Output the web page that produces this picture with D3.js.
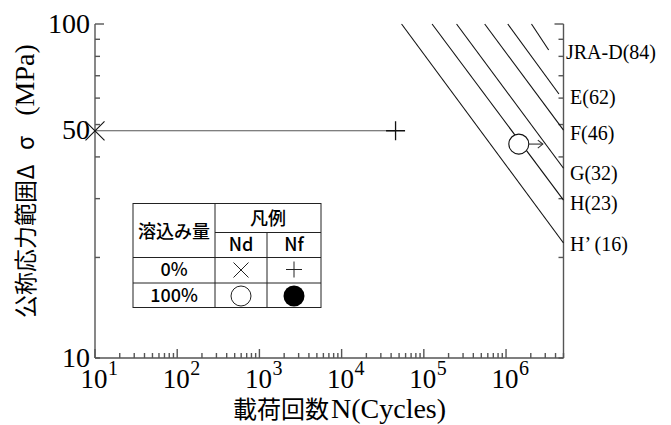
<!DOCTYPE html>
<html>
<head>
<meta charset="utf-8">
<script src="https://cdn.jsdelivr.net/npm/d3@7"></script>
<style>
  body { margin: 0; background: #fff; }
</style>
</head>
<body>
<div id="chartContainer"></div>
<script>
// S-N diagram values
var classNames  = ["JRA-D(84)", "E(62)", "F(46)", "G(32)", "H(23)", "H\u2019 (16)"];
var lineStartN  = [2.04e6, 1.05e6, 5.5e5, 2.5e5, 1.26e5, 5.36e4];
var lineStartS  = [100, 100, 100, 100, 100, 100];
var lineEndN    = [3.3e6, 4.4e6, 5e6, 5e6, 5e6, 5e6];
var lineEndS    = [83.6, 61.7, 48.1, 37.0, 29.7, 22.1];
var labelS      = [82.4, 60.4, 47.2, 35.8, 29.1, 21.9];

// test result: 0% penetration, crack initiation (Nd) and failure (Nf)
var testS = 47.9;
var testNd = 10;
var testNf = 45300;
// 100% penetration run-out
var runoutN = 1.43e6;
var runoutS = 43.7;

var yTickLabels = [100, 50, 10];
var xTickExps = [1, 2, 3, 4, 5, 6];

// legend table
var legendRows = ["0%", "100%"];
var legendCols = ["Nd", "Nf"];

var serif = "Liberation Serif";
var sans = "Noto Sans CJK JP";
var axisColor = "#555";

var svg = d3.select("#chartContainer").append("svg")
  .attr("width", 671).attr("height", 425);

var x = d3.scaleLog().domain([10, 5e6]).range([95, 563.5]);
var y = d3.scaleLog().domain([10, 100]).range([358, 24]);

function isMajor(v) { return Math.abs(Math.log10(v) - Math.round(Math.log10(v))) < 1e-9; }

// axes frame (left, bottom, right)
var ax = svg.append("g").attr("stroke", axisColor).attr("stroke-width", 1.4).attr("fill", "none");
ax.append("line").attr("x1", x(10)).attr("x2", x(10)).attr("y1", y(100)).attr("y2", y(10));
ax.append("line").attr("x1", x(10)).attr("x2", x(5e6)).attr("y1", y(10)).attr("y2", y(10));
ax.append("line").attr("x1", x(5e6)).attr("x2", x(5e6)).attr("y1", y(100)).attr("y2", y(10));

// x ticks pointing up
x.ticks().forEach(function (t) {
  var len = isMajor(t) ? 9 : 5;
  ax.append("line").attr("x1", x(t)).attr("x2", x(t)).attr("y1", y(10)).attr("y2", y(10) - len);
});
// y ticks on both sides, pointing in
y.ticks().forEach(function (t) {
  var len = t === 100 ? 9 : 5;
  ax.append("line").attr("x1", x(10)).attr("x2", x(10) + len).attr("y1", y(t)).attr("y2", y(t));
  ax.append("line").attr("x1", x(5e6)).attr("x2", x(5e6) - len).attr("y1", y(t)).attr("y2", y(t));
});

// y tick labels
svg.selectAll(".ylab").data(yTickLabels).enter().append("text")
  .attr("x", 90).attr("y", function (d) { return y(d); })
  .attr("dy", function (d) { return d === 50 ? "0.5em" : "0.33em"; })
  .attr("text-anchor", "end")
  .style("font-family", serif).attr("font-size", 28)
  .text(function (d) { return d; });

// x tick labels 10^n
xTickExps.forEach(function (e) {
  var px = x(Math.pow(10, e));
  svg.append("text").attr("x", px - 1).attr("y", 388)
    .attr("text-anchor", "middle")
    .style("font-family", serif).attr("font-size", 27).text("10");
  svg.append("text").attr("x", px + 13).attr("y", 375)
    .style("font-family", serif).attr("font-size", 20).text(e);
});

// axis titles
svg.append("text").attr("x", 233).attr("y", 418)
  .style("font-family", sans).attr("font-size", 24).text("載荷回数");
svg.append("text").attr("x", 331).attr("y", 418)
  .style("font-family", serif).attr("font-size", 28).text("N(Cycles)");

function yTitle(t, cy, fam, size) {
  svg.append("text").attr("transform", "translate(34," + cy + ") rotate(-90)")
    .attr("text-anchor", "middle")
    .style("font-family", fam).attr("font-size", size).text(t);
}
yTitle("公称応力範囲", 249, sans, 23);
yTitle("Δ", 172, sans, 23);
yTitle("σ", 143, sans, 23);
yTitle("(MPa)", 80, serif, 28);

// S-N class lines
var lineG = svg.append("g").attr("stroke", "#111").attr("stroke-width", 1.1);
classNames.forEach(function (c, i) {
  lineG.append("line")
    .attr("x1", x(lineStartN[i])).attr("y1", y(lineStartS[i]))
    .attr("x2", x(lineEndN[i])).attr("y2", y(lineEndS[i]));
});
svg.selectAll(".cls").data(classNames).enter().append("text")
  .attr("x", function (d, i) { return i === 0 ? 566 : 570; })
  .attr("y", function (d, i) { return y(labelS[i]); })
  .attr("dy", "0.35em")
  .style("font-family", serif).attr("font-size", 20)
  .text(function (d) { return d; });

// test result line 0%
svg.append("line")
  .attr("x1", x(testNd)).attr("x2", x(testNf))
  .attr("y1", y(testS)).attr("y2", y(testS))
  .attr("stroke", "#555").attr("stroke-width", 1.2);

function crossPath(s) { return "M" + (-s) + "," + (-s) + "L" + s + "," + s + "M" + (-s) + "," + s + "L" + s + "," + (-s); }
function plusPath(s) { return "M" + (-s) + ",0L" + s + ",0M0," + (-s) + "L0," + s; }

svg.append("path").attr("d", crossPath(9.5))
  .attr("transform", "translate(" + x(testNd) + "," + y(testS) + ")")
  .attr("stroke", "#111").attr("stroke-width", 1.1).attr("fill", "none");
svg.append("path").attr("d", plusPath(9.5))
  .attr("transform", "translate(" + x(testNf) + "," + y(testS) + ")")
  .attr("stroke", "#111").attr("stroke-width", 1.3).attr("fill", "none");

// run-out (100%) with arrow
var rx = x(runoutN), ry = y(runoutS);
svg.append("circle").attr("cx", rx).attr("cy", ry).attr("r", 10)
  .attr("fill", "#fff").attr("stroke", "#111").attr("stroke-width", 1.1);
var arr = svg.append("g").attr("stroke", "#333").attr("stroke-width", 1.1).attr("fill", "none");
arr.append("line").attr("x1", rx + 10).attr("x2", rx + 24).attr("y1", ry).attr("y2", ry);
arr.append("path").attr("d", "M" + (rx + 19) + "," + (ry - 4) + "L" + (rx + 24) + "," + ry + "L" + (rx + 19) + "," + (ry + 4));

// legend table
var tb = svg.append("g");
var tx0 = 133, tx1 = 215, tx2 = 267, tx3 = 321;
var ty0 = 203.5, ty1 = 232.5, ty2 = 257.5, ty3 = 283, ty4 = 307.5;
tb.append("rect").attr("x", tx0).attr("y", ty0).attr("width", tx3 - tx0).attr("height", ty4 - ty0)
  .attr("fill", "#fff").attr("stroke", "#222").attr("stroke-width", 1);
var tl = tb.append("g").attr("stroke", "#222").attr("stroke-width", 1);
tl.append("line").attr("x1", tx1).attr("x2", tx1).attr("y1", ty0).attr("y2", ty4);
tl.append("line").attr("x1", tx2).attr("x2", tx2).attr("y1", ty1).attr("y2", ty4);
tl.append("line").attr("x1", tx1).attr("x2", tx3).attr("y1", ty1).attr("y2", ty1);
tl.append("line").attr("x1", tx0).attr("x2", tx3).attr("y1", ty2).attr("y2", ty2);
tl.append("line").attr("x1", tx0).attr("x2", tx3).attr("y1", ty3).attr("y2", ty3);

function cellText(t, cx, cy) {
  tb.append("text").attr("x", cx).attr("y", cy).attr("dy", "0.36em")
    .attr("text-anchor", "middle").style("font-family", sans).attr("font-size", 18)
    .attr("font-weight", 500).text(t);
}
cellText("溶込み量", (tx0 + tx1) / 2, 232);
cellText("凡例", (tx1 + tx3) / 2, 219);
legendCols.forEach(function (c, i) { cellText(c, i === 0 ? (tx1 + tx2) / 2 : (tx2 + tx3) / 2, 245); });
legendRows.forEach(function (r, i) { cellText(r, (tx0 + tx1) / 2, i === 0 ? 270 : 296); });

var c1 = (tx1 + tx2) / 2, c2 = (tx2 + tx3) / 2;
tb.append("path").attr("d", crossPath(7.5)).attr("transform", "translate(" + c1 + ",270)")
  .attr("stroke", "#222").attr("stroke-width", 1).attr("fill", "none");
tb.append("path").attr("d", plusPath(8)).attr("transform", "translate(" + c2 + ",269.5)")
  .attr("stroke", "#222").attr("stroke-width", 1).attr("fill", "none");
tb.append("circle").attr("cx", c1).attr("cy", 296).attr("r", 10)
  .attr("fill", "#fff").attr("stroke", "#222").attr("stroke-width", 1);
tb.append("circle").attr("cx", c2).attr("cy", 296).attr("r", 10.5)
  .attr("fill", "#000");
</script>
</body>
</html>
